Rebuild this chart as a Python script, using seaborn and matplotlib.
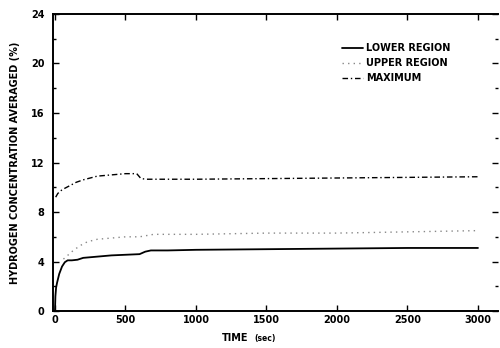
import matplotlib
matplotlib.use("Agg")
import matplotlib.pyplot as plt
import seaborn as sns
import pandas as pd
from matplotlib.ticker import MultipleLocator

# Averaged hydrogen concentration histories (%)
lower_t = [0, 3, 8, 15, 30, 50, 70, 90, 120, 160, 200, 300, 400, 500, 600, 640, 680, 800, 1000, 1500, 2000, 2500, 3000]
lower_c = [0, 1.2, 1.9, 2.3, 3.0, 3.6, 3.95, 4.1, 4.1, 4.15, 4.3, 4.4, 4.5, 4.55, 4.6, 4.8, 4.9, 4.9, 4.95, 5.0, 5.05, 5.1, 5.1]

upper_t = [60, 100, 130, 180, 230, 300, 400, 500, 600, 700, 800, 1000, 1500, 2000, 2500, 3000]
upper_c = [4.2, 4.6, 4.9, 5.3, 5.6, 5.8, 5.9, 6.0, 6.0, 6.2, 6.2, 6.2, 6.3, 6.3, 6.4, 6.5]

max_t = [5, 20, 50, 100, 150, 200, 300, 400, 500, 580, 610, 650, 800, 1000, 1500, 2000, 2500, 3000]
max_c = [9.2, 9.5, 9.8, 10.1, 10.4, 10.6, 10.9, 11.0, 11.1, 11.1, 10.7, 10.65, 10.65, 10.65, 10.7, 10.75, 10.8, 10.85]

series_names = ["LOWER REGION", "UPPER REGION", "MAXIMUM"]
x_ticks = [0, 500, 1000, 1500, 2000, 2500, 3000]
y_ticks = [0, 4, 8, 12, 16, 20, 24]

frames = []
for name, t, c in zip(series_names, [lower_t, upper_t, max_t], [lower_c, upper_c, max_c]):
    frames.append(pd.DataFrame({"time": t, "conc": c, "series": name}))
df = pd.concat(frames, ignore_index=True)

sns.set_theme(style="white")
plt.rcParams["font.family"] = ["DejaVu Sans"]
plt.rcParams["text.color"] = "black"
plt.rcParams["axes.labelcolor"] = "black"
plt.rcParams["xtick.color"] = "black"
plt.rcParams["ytick.color"] = "black"

fig = plt.figure(figsize=(5.0, 3.48), dpi=100)
ax = fig.add_axes([0.106, 0.106, 0.89, 0.854])

styles = {
    "LOWER REGION": dict(color="black", lw=1.3, ls="-"),
    "UPPER REGION": dict(color="#888888", lw=1.0, ls=(0, (1, 3))),
    "MAXIMUM": dict(color="black", lw=1.0, ls=(0, (4, 2, 1, 2))),
}
for name in series_names:
    sub = df[df["series"] == name]
    sns.lineplot(data=sub, x="time", y="conc", ax=ax, label=name,
                 estimator=None, sort=False, **styles[name])

ax.set_xlim(-14, 3142)
ax.set_ylim(0, 24)
ax.set_xticks(x_ticks)
ax.set_yticks(y_ticks)
ax.yaxis.set_minor_locator(MultipleLocator(2))
ax.set_xticklabels([str(v) for v in x_ticks], fontsize=7, fontweight="bold")
ax.set_yticklabels([str(v) for v in y_ticks], fontsize=7, fontweight="bold")
ax.tick_params(axis="both", which="both", direction="in", length=4, width=1,
               top=True, right=True, bottom=True, left=True, pad=3)
ax.tick_params(axis="y", which="major", pad=6)
ax.tick_params(axis="y", which="minor", length=2)

for side in ["left", "bottom", "top"]:
    ax.spines[side].set_color("black")
    ax.spines[side].set_linewidth(1.4)
ax.spines["right"].set_visible(False)

ax.set_xlabel("")
ax.set_ylabel("HYDROGEN CONCENTRATION AVERAGED (%)", fontsize=7, fontweight="bold", labelpad=8)
fig.text(0.444, 0.02, "TIME", fontsize=7, fontweight="bold", ha="left")
fig.text(0.508, 0.02, "(sec)", fontsize=5.5, fontweight="bold", ha="left")

leg = ax.legend(loc="upper left", bbox_to_anchor=(0.63, 0.93), frameon=False,
                fontsize=7, handlelength=2.2, handletextpad=0.3, labelspacing=0.5)
for txt in leg.get_texts():
    txt.set_fontweight("bold")

fig.savefig("out.png", dpi=100)
